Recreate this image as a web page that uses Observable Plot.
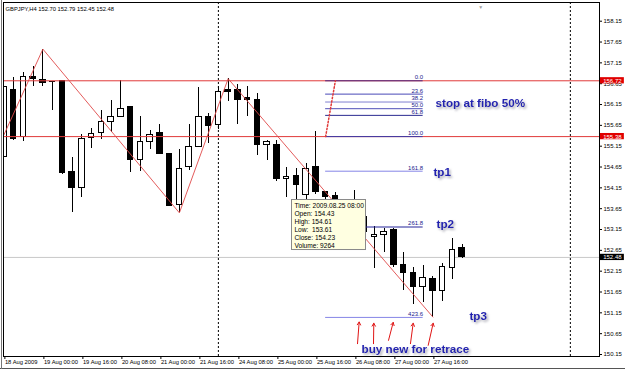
<!DOCTYPE html>
<html><head><meta charset="utf-8">
<script src="https://cdn.jsdelivr.net/npm/d3@7"></script>
<script src="https://cdn.jsdelivr.net/npm/@observablehq/plot@0.6"></script>
<style>html,body{margin:0;padding:0;background:#fff;}</style>
</head><body><div id="chart"></div>
<script>
// ---- data ----
const symbolTitle = "GBPJPY,H4 152.70 152.79 152.45 152.48";
const opens  = [154.90,156.51,155.36,156.82,156.73,156.70,156.71,154.54,154.15,155.34,155.46,155.74,155.85,156.09,154.82,155.26,155.46,154.96,153.73,154.64,155.14,155.85,155.67,156.49,156.49,156.30,156.27,155.19,155.19,154.36,154.43,153.99,154.64,154.04,153.95,153.82,153.73,153.44,152.97,153.01,153.14,152.29,152.10,151.77,151.97,151.67,152.23,152.70];
const highs  = [156.61,156.80,156.92,157.06,157.48,156.71,156.73,154.88,155.44,155.57,156.00,156.25,156.73,156.10,155.86,155.53,155.66,154.97,155.06,155.66,156.56,155.94,156.58,156.77,156.64,156.58,156.42,155.29,155.29,154.64,154.61,154.73,155.50,154.06,154.04,153.85,154.09,153.51,153.22,153.17,153.17,152.61,152.23,152.29,152.03,152.33,152.94,152.79];
const lows   = [154.88,155.29,155.26,156.58,156.58,156.01,154.48,153.57,153.91,155.09,155.31,155.48,155.83,154.52,154.54,155.07,154.94,153.70,153.55,154.57,155.13,155.21,155.55,156.23,155.67,155.86,154.93,154.81,154.30,153.92,153.61,153.85,153.99,153.87,153.82,153.32,153.25,152.98,152.22,152.60,152.25,151.69,151.35,151.40,151.05,151.42,151.94,152.45];
const closes = [156.56,155.33,156.80,156.76,156.67,156.68,154.51,154.14,155.33,155.45,155.74,155.86,156.05,154.82,155.26,155.42,154.96,153.71,154.61,155.14,155.85,155.63,156.46,156.46,156.26,156.25,155.19,155.25,154.37,154.42,154.23,154.61,154.04,153.94,153.87,153.51,153.56,153.08,153.03,153.10,152.29,152.10,151.77,151.98,151.67,152.25,152.67,152.48];
const volumeBar30 = 9264;
const timeBar30 = "2009.08.25 08:00";
const tooltipBar = 30;

const xTickBars   = [0,4,8,12,16,20,24,28,32,36,40,44];
const xTickLabels = ["18 Aug 2009","19 Aug 00:00","19 Aug 16:00","20 Aug 08:00","21 Aug 00:00","21 Aug 16:00","24 Aug 08:00","25 Aug 00:00","25 Aug 16:00","26 Aug 08:00","27 Aug 00:00","27 Aug 16:00"];
const yTicks = [150.15,150.65,151.15,151.65,152.15,152.65,153.15,153.65,154.15,154.65,155.15,155.65,156.15,156.65,157.15,157.65,158.15];

const zigzagBars   = [0,4,18,23,44];
const zigzagPrices = [155.42,157.48,153.55,156.77,151.05];

const levelPrices = [156.72,155.38];
const currentPrice = 152.48;
const separatorBars = [22,58.1];

const fiboLabels = ["0.0","23.6","38.2","50.0","61.8","100.0","161.8","261.8","423.6"];
const fiboPrices = [156.72,156.40,156.21,156.05,155.89,155.38,154.55,153.21,151.04];
const fiboColors = ["#4b2580","#4848b8","#8080d0","#5050b8","#2a2a90","#3a3aa8","#8585e6","#24249a","#8585e6"];
const fiboStartBar = 33, fiboEndBar = 43;
const fiboAnchorBars = [33,34], fiboAnchorPrices = [155.38,156.72];

const noteTexts  = ["stop at fibo 50%","tp1","tp2","tp3","buy new for retrace"];
const noteBars   = [44.27,44.06,44.37,47.75,36.68];
const notePrices = [156.17,154.52,153.27,151.06,150.27];

const arrowTailBars   = [36.27,37.91,39.45,41.70,43.52];
const arrowTailPrices = [150.41,150.41,150.49,150.41,150.37];
const arrowTipBars    = [36.44,37.94,39.93,41.98,44.03];
const arrowTipPrices  = [150.93,150.90,150.92,150.90,150.90];

const tooltipBox = {x1:29.6, x2:37.09, y1:152.67, y2:153.87, textBar:29.8, textPrice:153.81};
const shiftMarkerBar = 48.9;

// ---- derived tables ----
const candles = opens.map((o,i)=>({i, open:o, high:highs[i], low:lows[i], close:closes[i]}));
const zigzag = zigzagBars.map((b,k)=>({bar:b, price:zigzagPrices[k]}));
const fibo = fiboLabels.map((l,k)=>({label:l, price:fiboPrices[k], color:fiboColors[k]}));
const fiboAnchor = fiboAnchorBars.map((b,k)=>({bar:b, price:fiboAnchorPrices[k]}));
const notes = noteTexts.map((t,k)=>({text:t, bar:noteBars[k], price:notePrices[k]}));
const arrows = arrowTailBars.map((b,k)=>({x1:b, y1:arrowTailPrices[k], x2:arrowTipBars[k], y2:arrowTipPrices[k]}));
const tb = candles[tooltipBar];
const tooltipText = [
  "Time: " + timeBar30,
  "Open: " + tb.open.toFixed(2),
  "High: " + tb.high.toFixed(2),
  "Low:  " + tb.low.toFixed(2),
  "Close: " + tb.close.toFixed(2),
  "Volume: " + volumeBar30
].join("\n");

const xDomain = [-0.04, 61.09];
const yDomain = [150.102, 158.599];
const tags = [
  {price:levelPrices[0], bg:"#e00000", text:levelPrices[0].toFixed(2)},
  {price:levelPrices[1], bg:"#e00000", text:levelPrices[1].toFixed(2)},
  {price:currentPrice, bg:"#000000", text:currentPrice.toFixed(2)}
];
const font = "'Liberation Sans', Arial, sans-serif";
const noteColor = "#2020b0";

const plot = Plot.plot({
  width:625, height:370,
  marginLeft:3, marginRight:26, marginTop:2, marginBottom:14,
  style:{fontFamily:font, fontSize:"6px", background:"#fff", color:"#000", overflow:"visible"},
  x:{type:"linear", domain:xDomain},
  y:{type:"linear", domain:yDomain},
  marks:[
    Plot.ruleY([currentPrice], {stroke:"#c8c8c8"}),
    Plot.ruleX(separatorBars, {stroke:"#000", strokeDasharray:"2,2"}),
    // candles
    Plot.ruleX(candles, {x:"i", y1:"low", y2:"high", stroke:"#000", clip:true, shapeRendering:"crispEdges"}),
    Plot.rect(candles, {x1:d=>d.i-0.28, x2:d=>d.i+0.28, y1:"open", y2:"close",
      fill:d=>d.close>=d.open?"#fff":"#000", stroke:"#000", clip:true, shapeRendering:"crispEdges"}),
    // levels
    Plot.ruleY(levelPrices, {stroke:"#e03a3a"}),
    Plot.ruleY(fibo, {y:"price", x1:()=>fiboStartBar, x2:()=>fiboEndBar, stroke:"color"}),
    Plot.text(fibo, {x:()=>fiboEndBar, y:"price", text:"label", textAnchor:"end", dy:-3.5, fill:"#1a1a8c", fontSize:6}),
    Plot.line(fiboAnchor, {x:"bar", y:"price", stroke:"#e03a3a", strokeDasharray:"1.5,2"}),
    Plot.line(zigzag, {x:"bar", y:"price", stroke:"#e04848", strokeWidth:0.9, clip:true}),
    // arrows
    Plot.arrow(arrows, {x1:"x1", y1:"y1", x2:"x2", y2:"y2", stroke:"#e01515", strokeWidth:1, headLength:5}),
    // notes (drop shadow added via SVG filter below)
    Plot.text(notes, {x:"bar", y:"price", text:"text", textAnchor:"start", fontSize:11.7, fontWeight:"bold", fill:noteColor}),
    // tooltip
    Plot.rect([tooltipBox], {x1:"x1", x2:"x2", y1:"y1", y2:"y2", fill:"#777", dx:1, dy:1}),
    Plot.rect([tooltipBox], {x1:"x1", x2:"x2", y1:"y1", y2:"y2", fill:"#ffffe1", stroke:"#8a8a8a", shapeRendering:"crispEdges"}),
    Plot.text([tooltipText], {x:()=>tooltipBox.textBar, y:()=>tooltipBox.textPrice, text:d=>d, textAnchor:"start", lineAnchor:"top", lineHeight:1.212, fontSize:6.6, fill:"#000"}),
    // axes
    Plot.axisY({anchor:"right", ticks:yTicks, tickFormat:d=>d.toFixed(2), tickSize:2, tickPadding:2, label:null, fontSize:6}),
    Plot.axisX({anchor:"bottom", ticks:xTickBars, tickFormat:d=>xTickLabels[xTickBars.indexOf(d)], tickSize:3, tickPadding:0, textAnchor:"start", dx:1, label:null, fontSize:5.8}),
    // price tags on the right
    Plot.rect(tags, {x1:()=>xDomain[1]+0.1, x2:()=>xDomain[1]+2.55, y1:d=>d.price-0.075, y2:d=>d.price+0.075, fill:"bg"}),
    Plot.text(tags, {x:()=>xDomain[1]+1.32, y:"price", text:"text", fill:"#fff", fontSize:6}),
    Plot.frame({stroke:"#000"}),
    Plot.text([symbolTitle], {frameAnchor:"top-left", dx:2, dy:4.7, textAnchor:"start", fontSize:5.8, fill:"#000"}),
    Plot.text(["▼"], {x:()=>shiftMarkerBar, frameAnchor:"top", dy:3, fill:"#a0a0a0", fontSize:5})
  ]
});
document.getElementById("chart").appendChild(plot);
const svg = d3.select(plot);
// drop shadow for the hand-written notes
const defs = svg.insert("defs", ":first-child");
defs.append("filter").attr("id","noteShadow").attr("x","-10%").attr("y","-30%").attr("width","130%").attr("height","180%")
  .append("feDropShadow").attr("dx",1.6).attr("dy",1.8).attr("stdDeviation",0.9)
  .attr("flood-color","#8a8a9a").attr("flood-opacity",0.75);
svg.selectAll("text").filter(function(){ return noteTexts.includes(this.textContent); })
  .attr("filter","url(#noteShadow)");
// window chrome lines
svg.append("line").attr("x1",0).attr("x2",625).attr("y1",368.5).attr("y2",368.5).attr("stroke","#555");
svg.append("line").attr("x1",1.5).attr("x2",1.5).attr("y1",0).attr("y2",369).attr("stroke","#777");
</script>
</body></html>
